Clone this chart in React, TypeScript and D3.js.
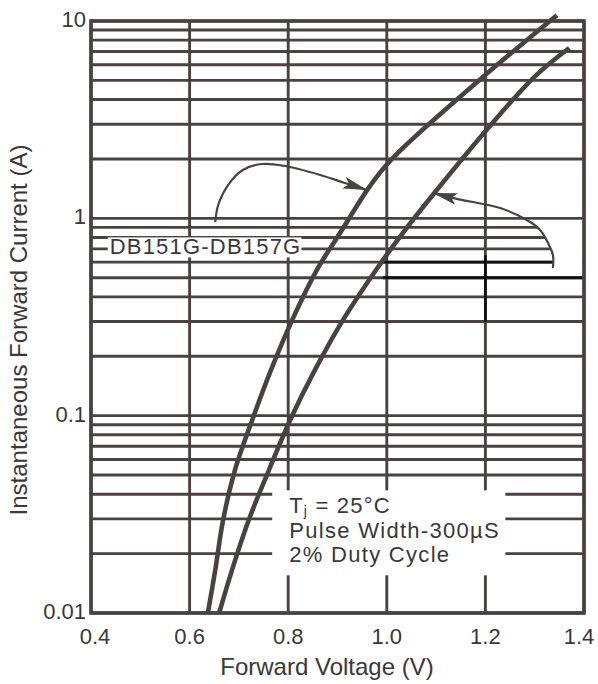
import * as d3 from "d3";
import { useEffect, useRef } from "react";

// axis ticks
const voltageTicks = [0.4, 0.6, 0.8, 1.0, 1.2, 1.4];
const voltageTickLabels = ["0.4", "0.6", "0.8", "1.0", "1.2", "1.4"];
const currentTicks = [0.01, 0.1, 1, 10];
const currentTickLabels = ["0.01", "0.1", "1", "10"];

// left curve (V, A)
const leftVoltage = [0.637, 0.652, 0.668, 0.692, 0.727, 0.765, 0.808, 0.858, 0.909, 0.96, 0.994, 1.035, 1.195, 1.345];
const leftCurrent = [0.01, 0.0165, 0.0296, 0.053, 0.095, 0.17, 0.305, 0.547, 0.872, 1.39, 1.8, 2.3, 5.2, 10.7];

// right curve (V, A)
const rightVoltage = [0.66, 0.686, 0.72, 0.761, 0.804, 0.854, 0.911, 0.988, 1.037, 1.096, 1.197, 1.299, 1.37];
const rightCurrent = [0.01, 0.0165, 0.0296, 0.053, 0.095, 0.17, 0.305, 0.594, 0.872, 1.34, 2.71, 5.2, 7.3];

// annotation arrows (V, A)
const arrowLeftVoltage = [0.652, 0.658, 0.678, 0.708, 0.747, 0.794, 0.865, 0.915, 0.96];
const arrowLeftCurrent = [0.958, 1.168, 1.475, 1.757, 1.885, 1.841, 1.658, 1.51, 1.391];
const arrowRightVoltage = [1.337, 1.337, 1.329, 1.311, 1.284, 1.23, 1.144, 1.094];
const arrowRightCurrent = [0.56, 0.652, 0.733, 0.873, 0.98, 1.128, 1.252, 1.343];

// highlighted grid lines
const highlightCurrents = [0.6, 0.5];
const highlightVoltage = 1.2;

const seriesLabel = "DB151G-DB157G";
const conditionLines = ["Pulse Width-300\u00b5S", "2% Duty Cycle"];

const xTitle = "Forward Voltage (V)";
const yTitle = "Instantaneous Forward Current (A)";

function ForwardChart() {
	const ref = useRef<SVGSVGElement>(null);

	function draw() {
		const root = d3.select(ref.current);
		root.selectAll("*").remove();

		const W = 598;
		const H = 684;
		const margin = { top: 21, right: 14, bottom: 71, left: 91 };
		const width = W - margin.left - margin.right;
		const height = H - margin.top - margin.bottom;
		const ink = "#4a4240";
		const textInk = "#3a3838";
		const font = "'Liberation Sans', Arial, Helvetica, sans-serif";

		const x = d3.scaleLinear().domain([0.4, 1.4]).range([0, width]);
		const y = d3.scaleLog().domain([0.01, 10]).range([height, 0]);

		const defs = root.append("defs");
		defs.append("marker")
			.attr("id", "head")
			.attr("viewBox", "0 0 24 12")
			.attr("refX", 24)
			.attr("refY", 6)
			.attr("markerWidth", 24)
			.attr("markerHeight", 12)
			.attr("markerUnits", "userSpaceOnUse")
			.attr("orient", "auto")
			.append("path")
			.attr("d", "M0,0 L24,6 L0,12 L5,6 Z")
			.attr("fill", ink);

		const svg = root
			.append("g")
			.attr("transform", `translate(${margin.left},${margin.top})`);

		// grid
		svg.append("g")
			.selectAll("line")
			.data(y.ticks())
			.enter()
			.append("line")
			.attr("x1", 0)
			.attr("x2", width)
			.attr("y1", (d) => y(d))
			.attr("y2", (d) => y(d))
			.attr("stroke", ink)
			.attr("stroke-width", 2.9);
		svg.append("g")
			.selectAll("line")
			.data(voltageTicks)
			.enter()
			.append("line")
			.attr("x1", (d) => x(d))
			.attr("x2", (d) => x(d))
			.attr("y1", 0)
			.attr("y2", height)
			.attr("stroke", ink)
			.attr("stroke-width", 2.9);

		// black cross
		highlightCurrents.forEach((c) => {
			svg.append("line")
				.attr("x1", x(1.0) - 4)
				.attr("x2", width)
				.attr("y1", y(c))
				.attr("y2", y(c))
				.attr("stroke", "#111")
				.attr("stroke-width", 2.8);
		});
		svg.append("line")
			.attr("x1", x(highlightVoltage))
			.attr("x2", x(highlightVoltage))
			.attr("y1", y(0.65))
			.attr("y2", y(0.3))
			.attr("stroke", "#111")
			.attr("stroke-width", 2.8);

		// white patch right of the right arrow
		const patch: [number, number][] = [];
		for (let i = 4; i >= 0; i--) patch.push([x(arrowRightVoltage[i]), y(arrowRightCurrent[i])]);
		patch.push([width - 1.5, y(arrowRightCurrent[0])]);
		patch.push([width - 1.5, y(arrowRightCurrent[4])]);
		svg.append("path")
			.attr("d", "M" + patch.map((p) => p.join(",")).join("L") + "Z")
			.attr("fill", "white");

		// conditions box
		const condX = x(0.8) + 1;
		const condY = y(0.032);
		svg.append("rect")
			.attr("x", x(0.8) - 16)
			.attr("y", condY - 23)
			.attr("width", x(1.2) - x(0.8) + 36)
			.attr("height", 85)
			.attr("fill", "white");
		const tj = svg.append("text")
			.attr("x", condX)
			.attr("y", condY)
			.attr("font-family", font)
			.attr("font-size", 22)
			.attr("letter-spacing", 1.2)
			.attr("fill", textInk);
		tj.append("tspan").text("T");
		tj.append("tspan").attr("font-size", 14).attr("dy", 3).text("j");
		tj.append("tspan").attr("dy", -3).text(" = 25\u00b0C");
		conditionLines.forEach((t, i) => {
			svg.append("text")
				.attr("x", condX)
				.attr("y", condY + 24.5 * (i + 1))
				.attr("font-family", font)
				.attr("font-size", 22)
				.attr("letter-spacing", 1.3)
				.attr("fill", textInk)
				.text(t);
		});

		// series label
		const lbl = svg.append("text")
			.attr("x", x(0.438))
			.attr("y", y(0.72))
			.attr("dy", "0.36em")
			.attr("font-family", font)
			.attr("font-size", 22)
			.attr("letter-spacing", 1.2)
			.attr("fill", textInk)
			.text(seriesLabel);
		const bb = (lbl.node() as SVGTextElement).getBBox();
		svg.insert("rect", "text")
			.attr("x", bb.x - 2)
			.attr("y", bb.y + 3)
			.attr("width", bb.width + 2)
			.attr("height", bb.height - 5)
			.attr("fill", "white");

		// frame
		svg.append("rect")
			.attr("x", 0)
			.attr("y", 0)
			.attr("width", width)
			.attr("height", height)
			.attr("fill", "none")
			.attr("stroke", ink)
			.attr("stroke-width", 3.6);

		// arrows and curves
		const smooth = d3
			.line<[number, number]>()
			.x((d) => x(d[0]))
			.y((d) => y(d[1]))
			.curve(d3.curveCatmullRom.alpha(0.5));
		const arrows = [
			arrowLeftVoltage.map((v, i) => [v, arrowLeftCurrent[i]] as [number, number]),
			arrowRightVoltage.map((v, i) => [v, arrowRightCurrent[i]] as [number, number]),
		];
		arrows.forEach((pts) => {
			svg.append("path")
				.attr("d", smooth(pts))
				.attr("fill", "none")
				.attr("stroke", ink)
				.attr("stroke-width", 2.2)
				.attr("marker-end", "url(#head)");
		});

		const curves = [
			leftVoltage.map((v, i) => [v, leftCurrent[i]] as [number, number]),
			rightVoltage.map((v, i) => [v, rightCurrent[i]] as [number, number]),
		];
		curves.forEach((pts) => {
			svg.append("path")
				.attr("d", smooth(pts))
				.attr("fill", "none")
				.attr("stroke", ink)
				.attr("stroke-width", 4.6);
		});

		// tick labels
		svg.append("g")
			.selectAll("text")
			.data(currentTicks)
			.enter()
			.append("text")
			.attr("x", -5)
			.attr("y", (d) => y(d) - 2)
			.attr("dy", "0.36em")
			.attr("text-anchor", "end")
			.attr("font-family", font)
			.attr("font-size", 22)
			.attr("fill", textInk)
			.text((d, i) => currentTickLabels[i]);
		svg.append("g")
			.selectAll("text")
			.data(voltageTicks)
			.enter()
			.append("text")
			.attr("x", (d, i) => x(d) + (i === 0 ? 4 : i === voltageTicks.length - 1 ? -5 : 0))
			.attr("y", height + 31)
			.attr("text-anchor", "middle")
			.attr("font-family", font)
			.attr("font-size", 22)
			.attr("fill", textInk)
			.text((d, i) => voltageTickLabels[i]);

		// titles
		root.append("text")
			.attr("x", 327)
			.attr("y", H - 9)
			.attr("text-anchor", "middle")
			.attr("font-family", font)
			.attr("font-size", 24)
			.attr("fill", textInk)
			.text(xTitle);
		root.append("text")
			.attr("transform", `translate(27,330) rotate(-90)`)
			.attr("text-anchor", "middle")
			.attr("font-family", font)
			.attr("font-size", 24)
			.attr("fill", textInk)
			.text(yTitle);
	}

	useEffect(() => {
		draw();
	}, []);

	return (
		<svg
			ref={ref}
			width={598}
			height={684}
			style={{ position: "absolute", left: 0, top: 0, background: "white" }}
		/>
	);
}

export default function App() {
	return <ForwardChart />;
}
